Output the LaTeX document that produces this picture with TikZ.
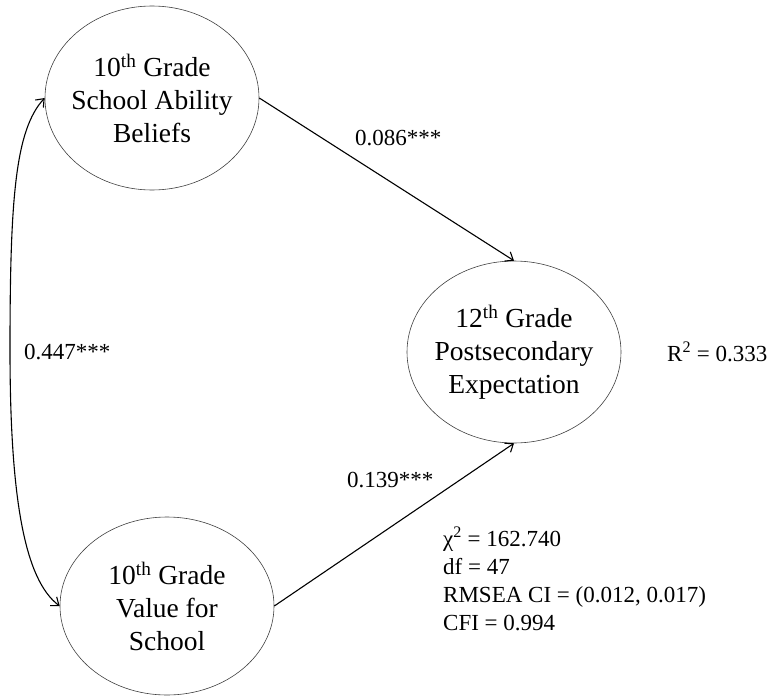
\documentclass[tikz,border=0pt]{standalone}
\usepackage{fontspec}
\setmainfont{Liberation Serif}
\usepackage{tikz}
\usetikzlibrary{arrows.meta,shapes.geometric}

\begin{document}
\begin{tikzpicture}[
    x=1pt, y=-1pt,
    latent/.style={ellipse, draw=black!75, line width=0.6pt, minimum width=214pt, minimum height=184pt, inner xsep=-14pt, inner ysep=0pt, align=center, font=\fontsize{27.5}{33}\selectfont},
    path/.style={line width=1.1pt, -{Straight Barb[length=7pt,width=11pt]}},
    coef/.style={anchor=west, inner sep=0pt, font=\fontsize{23}{28}\selectfont}
]
\useasboundingbox (0,0) rectangle (768,696);

\node[latent] (ability) at (152,98) {10\textsuperscript{th} Grade\\School Ability\\Beliefs};
\node[latent, minimum height=178pt] (value) at (167,606) {10\textsuperscript{th} Grade\\Value for\\School};
\node[latent, minimum height=182pt] (expect) at (514,352) {12\textsuperscript{th} Grade\\Postsecondary\\Expectation};

% structural paths
\draw[path] (ability.east) -- (expect.north);
\draw[path] (value.east) -- (expect.south);
% covariance
\draw[path, {Straight Barb[length=7pt,width=11pt]}-{Straight Barb[length=7pt,width=11pt]}]
    (ability.west) .. controls (15,130) and (10,200) .. (10,350)
    .. controls (10,500) and (25,580) .. (value.west);

\node[coef] (b1) at (355,138) {0.086***};
\node[coef] (b2) at (347,480) {0.139***};
\node[coef] (r) at (24,352) {0.447***};
\node[coef] (rsq) at (667,352) {R\textsuperscript{2} = 0.333};

\node[anchor=north west, inner sep=0pt, align=left, font=\fontsize{23}{28}\selectfont] (fit) at (443,527)
    {χ\textsuperscript{2} = 162.740\\df = 47\\RMSEA CI = (0.012,\ 0.017)\\CFI = 0.994};
\end{tikzpicture}
\end{document}
